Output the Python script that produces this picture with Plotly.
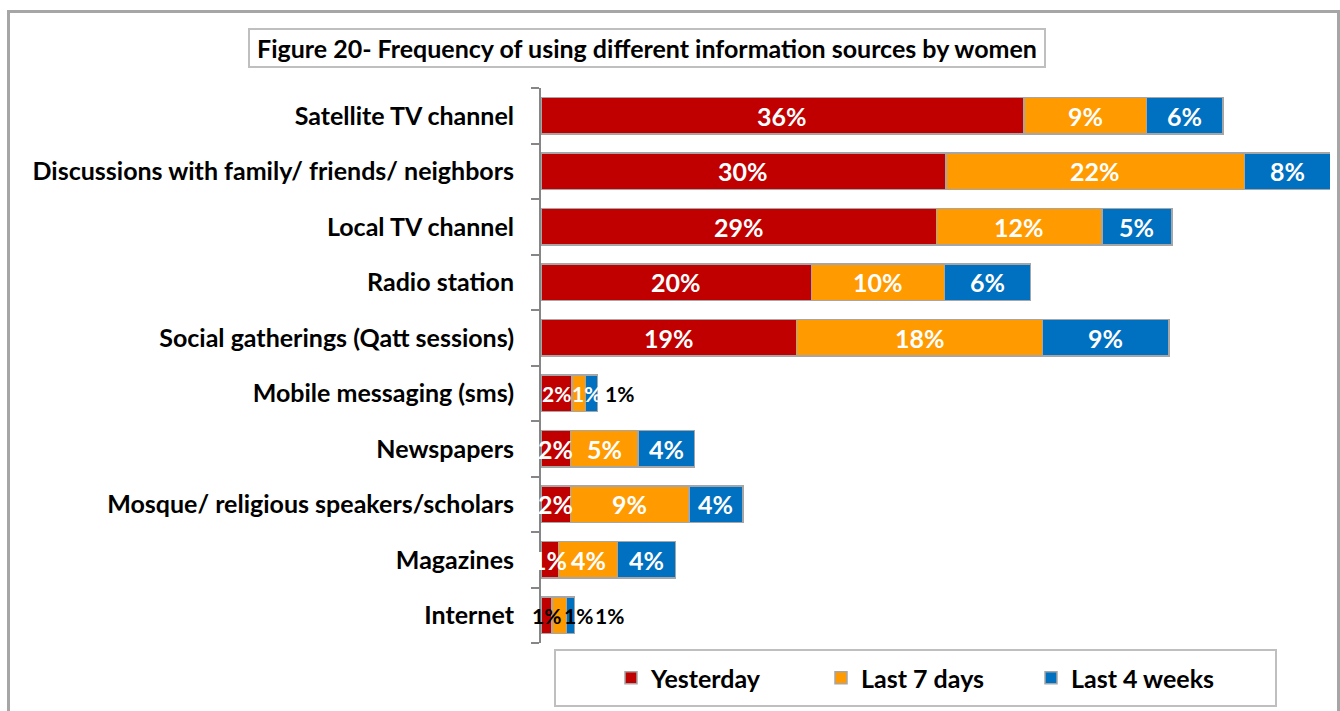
import plotly.graph_objects as go

# Information sources (top to bottom) and share of women using each, in %
categories = [
    "Satellite TV channel",
    "Discussions with family/ friends/ neighbors",
    "Local TV channel",
    "Radio station",
    "Social gatherings (Qatt sessions)",
    "Mobile messaging (sms)",
    "Newspapers",
    "Mosque/ religious speakers/scholars",
    "Magazines",
    "Internet",
]
yesterday = [35.9, 30.1, 29.4, 20.1, 19.0, 2.3, 2.2, 2.2, 1.3, 0.8]
last_7_days = [9.1, 22.2, 12.3, 9.9, 18.3, 1.0, 5.0, 8.8, 4.4, 1.1]
last_4_weeks = [5.7, 8.0, 5.2, 6.4, 9.4, 0.9, 4.2, 4.0, 4.3, 0.6]
series_names = ["Yesterday", "Last 7 days", "Last 4 weeks"]
series_colors = ["#C00000", "#FF9A00", "#0070C0"]

W, H = 1340, 711
ML, MR, MT, MB = 541, 10, 88, 68
PW, PH = W - ML - MR, H - MT - MB
FONT = "Lato"
FS = 25
FS_SMALL = 21
X_MAX = PW / 13.45


def px_x(x):
    return (x - ML) / PW


def px_y(y):
    return (H - MB - y) / PH


def label_font(color, size=FS):
    return dict(family=FONT, size=size, weight="bold", color=color)


fig = go.Figure()
all_series = [yesterday, last_7_days, last_4_weeks]
for name, vals, color in zip(series_names, all_series, series_colors):
    fig.add_trace(go.Bar(
        y=categories, x=vals, name=name, orientation="h",
        marker=dict(color=color, line=dict(color="#A6A6A6", width=1.5)),
        hovertemplate="%{y}<br>" + name + ": %{x:.0f}%<extra></extra>",
    ))

annotations = [dict(
    text="Figure 20- Frequency of using different information sources by women",
    xref="paper", yref="paper", x=px_x(647), y=px_y(48),
    xanchor="center", yanchor="middle", showarrow=False,
    font=label_font("black"),
)]

# Value labels, drawn above all bars so overflowing text stays readable.
# Thin rows (Mobile messaging, Internet) use a smaller font and push some
# labels past the bar end.
thin_rows = {"Mobile messaging (sms)", "Internet"}
outside_shift = {
    ("Mobile messaging (sms)", 2): 22,
    ("Internet", 1): 4,
    ("Internet", 2): 35,
}
inside_shift = {
    ("Mobile messaging (sms)", 1): 8,
}
for i, cat in enumerate(categories):
    start = 0.0
    stack_end = yesterday[i] + last_7_days[i] + last_4_weeks[i]
    dark_row = cat == "Internet"
    size = FS_SMALL if cat in thin_rows else FS
    for k, vals in enumerate(all_series):
        v = vals[i]
        seg_end = min(start + v, X_MAX)
        xpos = (start + seg_end) / 2
        shift = inside_shift.get((cat, k), 0)
        color = "black" if dark_row else "white"
        if (cat, k) in outside_shift:
            xpos = stack_end
            shift = outside_shift[(cat, k)]
            color = "black"
        annotations.append(dict(
            text=f"{v:.0f}%", x=xpos, y=cat, xref="x", yref="y",
            xanchor="center", yanchor="middle", xshift=shift,
            showarrow=False, font=label_font(color, size), borderpad=0,
        ))
        start += v

shapes = [
    # outer chart frame
    dict(type="rect", xref="paper", yref="paper",
         x0=px_x(8.5), x1=px_x(1338.5), y0=px_y(725), y1=px_y(11.5),
         line=dict(color="#A6A6A6", width=3), layer="below"),
    # title frame
    dict(type="rect", xref="paper", yref="paper",
         x0=px_x(249), x1=px_x(1045), y0=px_y(67), y1=px_y(29),
         line=dict(color="#BFBFBF", width=2), fillcolor="white"),
    # legend frame
    dict(type="rect", xref="paper", yref="paper",
         x0=px_x(555), x1=px_x(1276), y0=px_y(706), y1=px_y(650),
         line=dict(color="#BFBFBF", width=2)),
]

fig.update_layout(
    width=W, height=H,
    margin=dict(l=ML, r=MR, t=MT, b=MB),
    paper_bgcolor="white", plot_bgcolor="white",
    barmode="stack", bargap=0.35,
    shapes=shapes,
    annotations=annotations,
    xaxis=dict(range=[0, X_MAX], visible=False, fixedrange=True),
    yaxis=dict(
        categoryorder="array", categoryarray=categories[::-1],
        showline=True, linecolor="#868686", linewidth=2,
        ticks="outside", tickson="boundaries", ticklen=8,
        tickcolor="#868686", tickwidth=2,
        ticklabelstandoff=20,
        tickfont=label_font("black"),
        showgrid=False, zeroline=False,
    ),
    legend=dict(
        orientation="h", x=px_x(926), y=px_y(678),
        xanchor="center", yanchor="middle",
        font=label_font("black"),
        traceorder="normal", entrywidth=165, itemwidth=30,
        bgcolor="rgba(0,0,0,0)",
    ),
    showlegend=True,
)

fig.write_html("out.html")
